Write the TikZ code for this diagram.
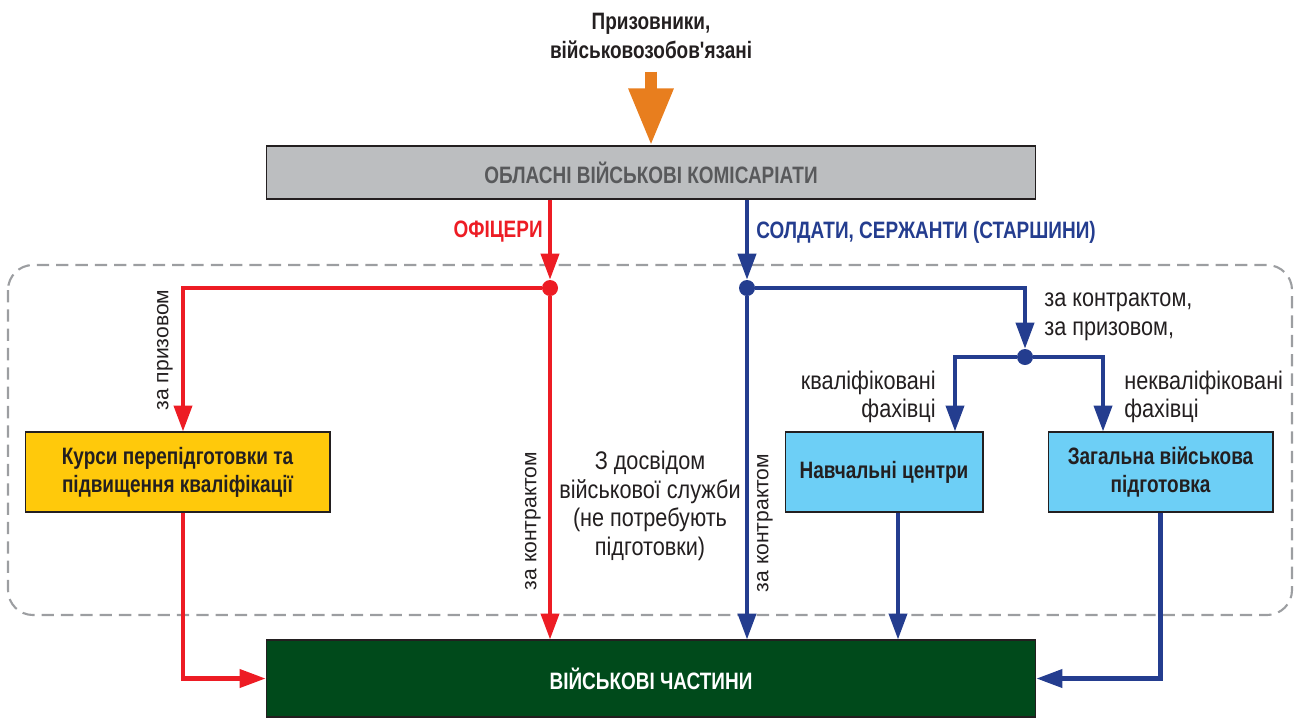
\documentclass[tikz,border=0pt]{standalone}
\usepackage{fontspec}
\newfontfamily\condfont[FakeStretch=0.8]{Liberation Sans}
\newfontfamily\labelfont[FakeStretch=0.85]{Liberation Sans}
\newfontfamily\wideface{Liberation Sans}
\usetikzlibrary{arrows.meta}
\definecolor{offred}{HTML}{ED1C24}
\definecolor{solblue}{HTML}{243D8F}
\definecolor{orng}{HTML}{E87E1E}
\definecolor{gryfill}{HTML}{BCBEC0}
\definecolor{gryink}{HTML}{58595B}
\definecolor{ink}{HTML}{231F20}
\definecolor{yel}{HTML}{FFC90B}
\definecolor{skyb}{HTML}{6DCFF6}
\definecolor{grn}{HTML}{004A1B}
\definecolor{zonegrey}{HTML}{9C9EA1}
\begin{document}
\begin{tikzpicture}[x=0.02cm, y=-0.02cm,
    every node/.style={font=\fontsize{13.5}{16}\condfont, inner sep=0pt},
    lbl/.style={text=ink, align=center, font=\fontsize{14.5}{16.3}\labelfont},
    bold/.style={font=\fontsize{13.5}{16}\condfont\bfseries},
    box/.style={draw=ink, line width=0.6pt, minimum height=1.6cm, align=center, text=ink, bold},
    rot/.style={rotate=90, text=ink, font=\fontsize{12}{14}\wideface},
    dot/.style={circle, minimum size=0.32cm},
    rd/.style={draw=offred, line width=2.3pt},
    bl/.style={draw=solblue, line width=2.3pt},
    tip/.style={-{Triangle[length=0.52cm, width=0.36cm]}},
    bigtip/.style={draw=orng, line width=0.24cm, -{Triangle[length=1.14cm, width=0.84cm]}},
    zone/.style={draw=zonegrey, line width=1.2pt, dash pattern=on 7pt off 4pt, rounded corners=0.5cm}]
    \useasboundingbox (0,0) rectangle (1294,725);
    \draw[zone] (8,265) rectangle (1292,615);

    \node[text=ink, align=center, bold] (prz) at (651, 36) {Призовники,\\військовозобов'язані};
    \node[box, fill=gryfill, text=gryink, minimum width=15.4cm, minimum height=1.06cm] (obl) at (651, 172.5) {ОБЛАСНІ ВІЙСЬКОВІ КОМІСАРІАТИ};
    \node[box, fill=yel, minimum width=6.1cm] (kurs) at (177.5, 472) {Курси перепідготовки та\\підвищення кваліфікації};
    \node[box, fill=skyb, minimum width=3.96cm] (navch) at (884, 472) {Навчальні центри};
    \node[box, fill=skyb, minimum width=4.5cm] (zvp) at (1160.5, 472) {Загальна військова\\підготовка};
    \node[box, fill=grn, text=white, minimum width=15.4cm, minimum height=1.54cm] (chast) at (651, 678.5) {ВІЙСЬКОВІ ЧАСТИНИ};

    \node[dot, fill=offred] (rdot) at (550, 288) {};
    \node[dot, fill=solblue] (bdot) at (747, 288) {};
    \node[dot, fill=solblue] (kdot) at (1025, 357) {};
    \coordinate (rcorn) at (183, 288);

    \node[bold, text=offred, anchor=east] (ofc) at (543, 232) {ОФІЦЕРИ};
    \node[bold, text=solblue, anchor=west] (sld) at (756, 232) {СОЛДАТИ, СЕРЖАНТИ (СТАРШИНИ)};
    \node[rot] (zpr) at (165, 350) {за призовом};
    \node[rot] (zk1) at (533, 521) {за контрактом};
    \node[rot] (zk2) at (765, 523) {за контрактом};
    \node[lbl] (dosv) at (650, 506) {З досвідом\\військової служби\\(не потребують\\підготовки)};
    \node[lbl, align=left, anchor=west] (zkzp) at (1044, 317) {за контрактом,\\за призовом,};
    \node[lbl, align=right, anchor=east] (kval) at (936, 397) {кваліфіковані\\фахівці};
    \node[lbl, align=left, anchor=west] (nekval) at (1124, 397) {некваліфіковані\\фахівці};

    \draw[bigtip, shorten <=0.26cm] (prz) -- (obl);

    \draw[rd, tip] (obl.south -| rdot) -- (rdot);
    \draw[rd, tip] (rdot) -- (rcorn) -- (rcorn |- kurs.north);
    \draw[rd, tip] (rdot) -- (rdot |- chast.north);
    \draw[rd, tip] (kurs.south -| rcorn) |- (chast.west);

    \draw[bl, tip] (obl.south -| bdot) -- (bdot);
    \draw[bl, tip] (bdot) -| (kdot);
    \draw[bl, tip] (bdot) -- (bdot |- chast.north);
    \draw[bl, tip] (kdot) -| ([xshift=1.42cm]navch.north);
    \draw[bl, tip] (kdot) -| ([xshift=-1.15cm]zvp.north);
    \draw[bl, tip] ([xshift=0.28cm]navch.south) -- ([xshift=0.28cm]navch.south |- chast.north);
    \draw[bl, tip] (zvp.south) |- (chast.east);
\end{tikzpicture}
\end{document}
